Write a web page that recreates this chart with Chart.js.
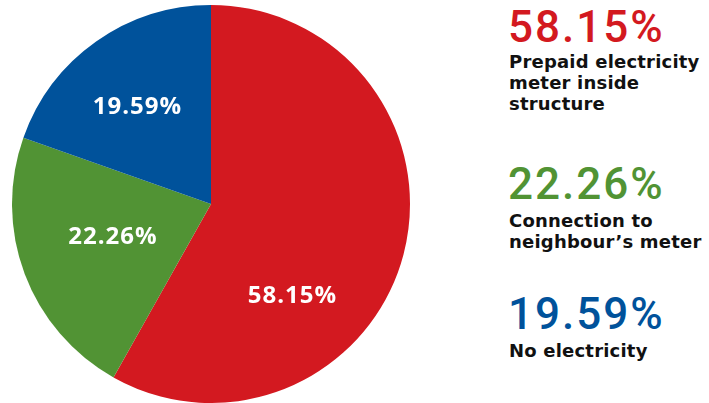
<!DOCTYPE html>
<html>
<head>
<meta charset="utf-8">
<script src="https://cdn.jsdelivr.net/npm/chart.js@4/dist/chart.umd.min.js"></script>
<style>
  html, body { margin: 0; padding: 0; background: #fff; }
  #wrap { position: relative; width: 709px; height: 403px; overflow: hidden; }
  #pie { position: absolute; left: 0; top: 0; }
  .pct { position: absolute; left: 508px; font-family: Roboto, sans-serif; font-weight: 500; font-size: 44px; line-height: 44px; letter-spacing: 2px; white-space: nowrap; }
  .txt { position: absolute; left: 509px; font-family: "DejaVu Sans", sans-serif; font-weight: bold; font-size: 18px; line-height: 21px; letter-spacing: 0.2px; color: #111; white-space: nowrap; }
</style>
</head>
<body>
<div id="wrap">
  <canvas id="pie" width="422" height="403"></canvas>
  <div id="legend"></div>
</div>
<script>
// 用電方式分佈
const categories = [
    ['Prepaid electricity', 'meter inside', 'structure'],
    ['Connection to', 'neighbour\u2019s meter'],
    ['No electricity']
];
const shares = [58.15, 22.26, 19.59];
const sliceColors = ['#D31920', '#519334', '#00529B'];

// 圖例：百分比與說明文字的上緣位置
const pctTops = [5, 162, 292];
const txtTops = [51, 210, 340];

// 扇形內百分比文字：相對扇形中線的角度偏移(度)與半徑比例
const labelPlacement = [
    { shift: 34, r: 0.62 },
    { shift: 2, r: 0.52 },
    { shift: -2, r: 0.61 }
];

const pctText = v => v.toFixed(2) + '%';

const sliceLabels = {
    id: 'sliceLabels',
    afterDatasetsDraw(chart) {
        const ctx = chart.ctx;
        const meta = chart.getDatasetMeta(0);
        ctx.save();
        ctx.font = 'bold 24px "Open Sans", sans-serif';
        ctx.letterSpacing = '1px';
        ctx.fillStyle = '#fff';
        ctx.textAlign = 'center';
        ctx.textBaseline = 'middle';
        meta.data.forEach((arc, i) => {
            const p = arc.getProps(['x', 'y', 'startAngle', 'endAngle', 'outerRadius'], true);
            const place = labelPlacement[i];
            const mid = (p.startAngle + p.endAngle) / 2 + place.shift * Math.PI / 180;
            const rr = p.outerRadius * place.r;
            ctx.fillText(pctText(shares[i]), p.x + Math.cos(mid) * rr, p.y + Math.sin(mid) * rr);
        });
        ctx.restore();
    }
};

new Chart(document.getElementById('pie'), {
    type: 'pie',
    data: {
        labels: categories.map(c => c.join(' ')),
        datasets: [{
            data: shares,
            backgroundColor: sliceColors,
            borderWidth: 0
        }]
    },
    options: {
        responsive: false,
        animation: false,
        layout: { padding: { top: 5, bottom: 0, left: 0, right: 0 } },
        plugins: {
            legend: { display: false },
            tooltip: { enabled: false }
        }
    },
    plugins: [sliceLabels]
});

// 右側圖例
const legend = document.getElementById('legend');
shares.forEach((v, i) => {
    const pct = document.createElement('div');
    pct.className = 'pct';
    pct.style.top = pctTops[i] + 'px';
    pct.style.color = sliceColors[i];
    pct.textContent = pctText(v);
    const txt = document.createElement('div');
    txt.className = 'txt';
    txt.style.top = txtTops[i] + 'px';
    txt.innerHTML = categories[i].join('<br>');
    legend.appendChild(pct);
    legend.appendChild(txt);
});
</script>
</body>
</html>
